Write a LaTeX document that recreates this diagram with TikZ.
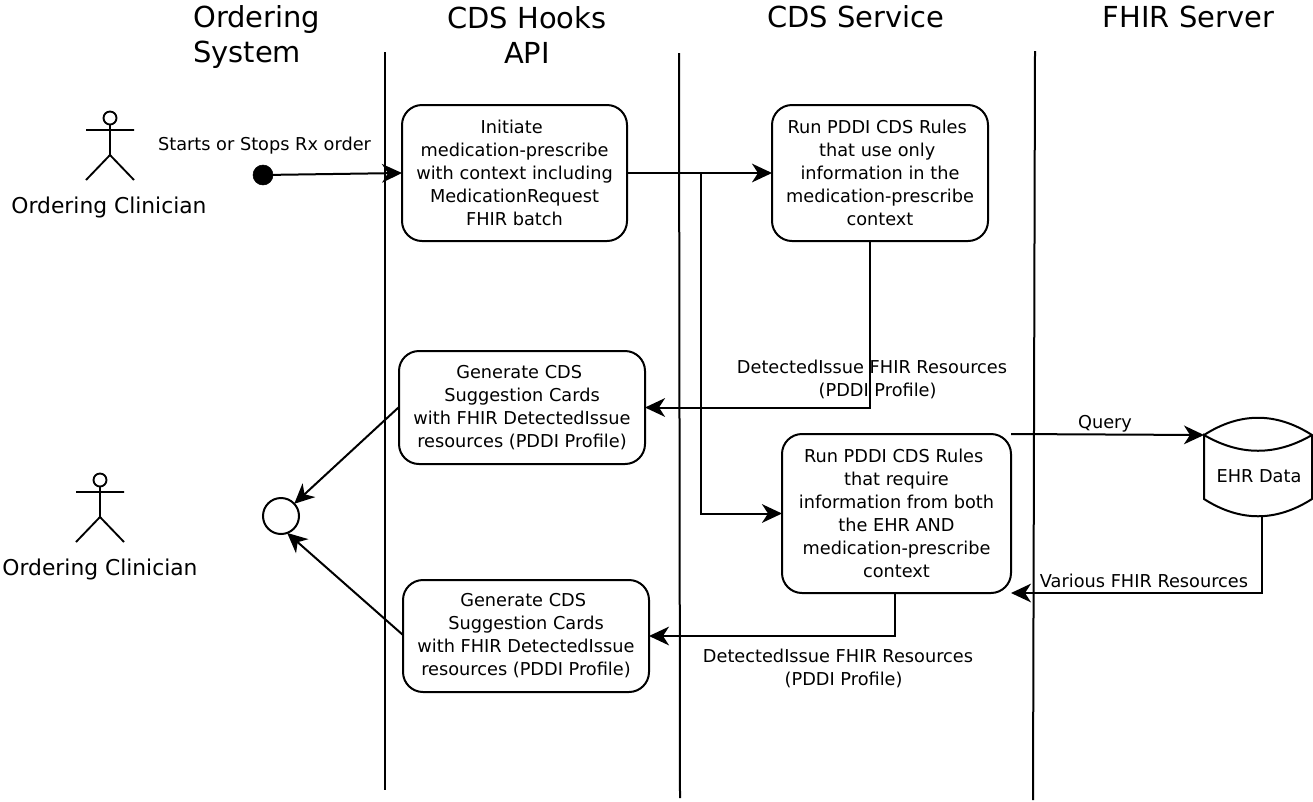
\documentclass[tikz,border=0pt]{standalone}
\usepackage{fontspec}
\setmainfont{DejaVu Sans}
\usetikzlibrary{arrows.meta}
\tikzset{
  px/.style={x=0.75pt,y=-0.75pt},
  conn/.style={line width=1.5pt,-{Stealth[length=15pt,width=14pt,inset=4.5pt]}},
  plain/.style={line width=1.5pt},
  activity/.style={draw=black,line width=1.5pt,rounded corners=15pt,inner sep=0pt,outer sep=0pt,align=center,font=\bodyfont},
  lbl/.style={inner sep=0pt,align=center,font=\bodyfont},
  title/.style={inner sep=0pt,font=\titlefont},
  actorlbl/.style={inner sep=0pt,font=\actorfont}
}
\newcommand{\bodyfont}{\fontsize{13.3pt}{17.25pt}\selectfont}
\newcommand{\titlefont}{\fontsize{21.7pt}{26.25pt}\selectfont}
\newcommand{\actorfont}{\fontsize{16.35pt}{20pt}\selectfont}
\newcommand{\tsp}{\hspace*{4.2pt}}
\begin{document}
\begin{tikzpicture}[px]
\useasboundingbox (0,0) rectangle (1313,801);
% swimlane titles
\node[title,anchor=west,align=left] (t1) at (193,37) {Ordering\\System};
\node[title,align=center] (t2) at (527,35) {CDS Hooks\\API};
\node[title] (t3) at (855.5,17) {CDS Service};
\node[title] (t4) at (1188.5,17) {FHIR Server};
% swimlane lines
\coordinate (l1a) at (385,52); \coordinate (l1b) at (385,790);
\coordinate (l2a) at (679,53); \coordinate (l2b) at (680,798);
\coordinate (l3a) at (1035,51); \coordinate (l3b) at (1033,800);
\draw[plain] (l1a) -- (l1b);
\draw[plain] (l2a) -- (l2b);
\draw[plain] (l3a) -- (l3b);
% actors
\draw[plain,line width=1.4pt] (110,118) circle (6.5);
\draw[plain,line width=1.4pt] (110,124.5) -- (110,155) (86,130) -- (134,130) (86,180) -- (110,155) -- (134,180);
\node[actorlbl] (a1) at (109,207) {Ordering Clinician};
\draw[plain,line width=1.4pt] (100,480) circle (6.5);
\draw[plain,line width=1.4pt] (100,486.5) -- (100,517) (76,492) -- (124,492) (76,542) -- (100,517) -- (124,542);
\node[actorlbl] (a2) at (100,569) {Ordering Clinician};
% activities
\node[activity,minimum width=168.75pt,minimum height=102pt] (b1) at (514.5,173) {Initiate\tsp\\medication-prescribe\\with context including\\MedicationRequest\\FHIR batch};
\node[activity,minimum width=162pt,minimum height=102pt] (b2) at (880,173) {Run PDDI CDS Rules\tsp\\that use only\tsp\tsp\\information in the\\medication-prescribe\\context};
\node[activity,minimum width=184.5pt,minimum height=84.75pt] (b3) at (522,407.5) {\rule{0pt}{1.5pt}Generate CDS\tsp\\Suggestion Cards\tsp\\with FHIR DetectedIssue\\resources (PDDI Profile)};
\node[activity,minimum width=171.75pt,minimum height=119.25pt] (b4) at (896.5,513.5) {Run PDDI CDS Rules\tsp\\that require\tsp\\information from both\tsp\\the EHR AND\tsp\\medication-prescribe\\context};
\node[activity,minimum width=184.5pt,minimum height=84pt] (b5) at (526,636) {Generate CDS\tsp\\Suggestion Cards\tsp\\with FHIR DetectedIssue\\resources (PDDI Profile)};
% start and end
\node[circle,fill=black,draw=black,minimum size=15pt,inner sep=0pt,outer sep=0pt] (start) at (263,175) {};
\node[circle,draw=black,line width=1.5pt,minimum size=27pt,inner sep=0pt,outer sep=0pt] (end) at (281,516) {};
% data store
\draw[plain] (1204,435) .. controls (1240,412) and (1276,412) .. (1312,435)
  .. controls (1276,456) and (1240,456) .. (1204,435) -- (1204,499)
  .. controls (1240,522) and (1276,522) .. (1312,499) -- (1312,435);
\node[lbl] (ehr) at (1259,476) {EHR Data};
\coordinate (ehrin) at (1204,435);
\coordinate (ehrout) at (1262,515);
\coordinate (b2out) at (870,241);
\coordinate (b4out) at (895,593);
\coordinate (split) at (701,173);
\coordinate (b3out) at (399,407);
\coordinate (b5out) at (403,635);
% connectors
\draw[conn] (start) -- (b1.west);
\draw[conn] (b1.east) -- (b2.west);
\draw[conn] (split) |- (b4.west);
\draw[conn] (b2out) |- (b3.east);
\draw[conn] (b3out) -- (end);
\draw[conn] (b5out) -- (end.-70);
\draw[conn] (b4out) |- (b5.east);
\draw[conn] (b4.north east) -- (ehrin);
\draw[conn] (ehrout) |- (b4.south east);
% labels
\node[lbl] (s) at (264.5,146) {Starts or Stops Rx order};
\node[lbl] (d1) at (872,379) {DetectedIssue FHIR Resources\\\tsp\tsp(PDDI Profile)};
\node[lbl] (d2) at (838,668) {DetectedIssue FHIR Resources\\\tsp\tsp(PDDI Profile)};
\node[lbl] (q) at (1105,424) {Query};
\node[lbl] (v) at (1144,581) {Various FHIR Resources};
\end{tikzpicture}
\end{document}
